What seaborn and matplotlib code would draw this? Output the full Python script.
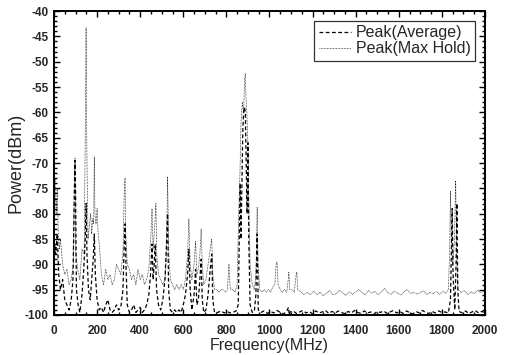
import numpy as np
import pandas as pd
import seaborn as sns
import matplotlib.pyplot as plt
from matplotlib.ticker import MultipleLocator

# Peak(Max Hold) trace (MHz, dBm)
freq_max = [0, 5, 10, 15, 20, 25, 30, 40, 50, 60, 70, 80, 90, 95, 98, 101, 110, 120, 130, 140,
            146, 149, 152, 158, 165, 170, 175, 180, 184, 187, 190, 195, 200, 205, 210, 220, 230, 240, 250, 260,
            270, 280, 290, 300, 310, 320, 327, 330, 333, 340, 350, 360, 370, 380, 390, 400, 410, 420, 430, 440,
            450, 455, 460, 468, 473, 477, 485, 495, 505, 515, 522, 527, 533, 540, 550, 560, 570, 580, 590, 600,
            610, 620, 626, 632, 640, 650, 657, 663, 670, 677, 683, 688, 695, 705, 715, 725, 732, 737, 745, 755,
            765, 775, 785, 795, 805, 812, 818, 830, 840, 850, 857, 863, 868, 874, 880, 885, 888, 891, 895, 900,
            905, 910, 920, 930, 937, 943, 947, 955, 965, 975, 985, 995, 1005, 1015, 1025, 1031, 1035, 1040, 1050, 1060,
            1070, 1080, 1087, 1090, 1094, 1105, 1115, 1124, 1127, 1131, 1145, 1160, 1175, 1190, 1205, 1220, 1235, 1250, 1265, 1280,
            1295, 1310, 1325, 1340, 1355, 1370, 1385, 1400, 1415, 1430, 1445, 1460, 1475, 1490, 1505, 1520, 1535, 1550, 1565, 1580,
            1595, 1610, 1625, 1640, 1655, 1670, 1685, 1700, 1715, 1730, 1745, 1760, 1775, 1790, 1805, 1818, 1830, 1836, 1840, 1844,
            1850, 1858, 1864, 1869, 1875, 1890, 1905, 1920, 1935, 1950, 1965, 1980, 2000]
power_max = [-76, -73, -80, -75, -84, -87, -85, -90, -92, -91, -94, -93, -90, -72, -69, -88, -91, -93, -87, -88,
             -60, -43.3, -66, -85, -82, -80, -84, -81, -82, -68.8, -80, -82, -79, -84, -86, -92, -94, -91, -93, -92,
             -94, -93, -90, -91, -92, -88, -74, -73, -84, -90, -91, -93, -92, -94, -91, -93, -92, -94, -93, -91,
             -84, -79, -87, -82, -78, -88, -92, -93, -94, -93, -88, -72.7, -88, -93, -94, -95, -94, -95, -94, -95,
             -93, -88, -81, -90, -93, -90, -85.5, -92, -91, -88, -83, -90, -94, -93, -90, -87, -85, -92, -95, -95,
             -95.5, -95, -95, -95.5, -95, -90, -95, -95, -95.5, -94, -80, -72, -62, -58, -60, -53, -52.3, -57, -60, -66,
             -80, -90, -94, -95, -92, -78.7, -90, -95, -95.5, -95, -95.5, -95, -95.5, -94.5, -94, -90, -89.5, -94, -95, -95.5,
             -95, -95.5, -93, -91.5, -95, -95, -95.5, -92, -91.5, -95, -95.5, -96, -95.5, -96, -95.3, -96, -95.5, -96.2, -95.6, -95.2,
             -96, -95.8, -95.1, -95.7, -96.1, -95.4, -95.9, -95.5, -95, -95.6, -96, -95.2, -95.7, -95.3, -96, -95.4, -94.8, -95.6, -95.9, -95.3,
             -95.7, -96.1, -95.4, -95, -95.8, -95.5, -95.9, -95.6, -95.2, -96, -95.5, -95.8, -95.4, -95.9, -95.3, -95.7, -95, -88, -75.5, -85,
             -90, -86, -73.5, -88, -95, -95.6, -95.2, -96, -95.4, -95.8, -95.1, -95.6, -95.3]

# Peak(Average) trace
freq_avg = [0, 8, 15, 22, 30, 40, 50, 60, 70, 80, 88, 93, 97, 100, 104, 112, 120, 130, 138, 145,
            149, 153, 160, 168, 175, 182, 187, 192, 200, 210, 220, 230, 240, 250, 260, 270, 280, 290, 300, 310,
            320, 326, 330, 334, 340, 350, 360, 370, 380, 390, 400, 410, 420, 430, 440, 448, 455, 460, 465, 470,
            476, 485, 495, 505, 515, 522, 527, 532, 540, 550, 560, 570, 580, 590, 600, 610, 620, 626, 632, 640,
            650, 657, 663, 670, 677, 683, 688, 695, 705, 715, 725, 732, 737, 745, 760, 775, 790, 805, 815, 830,
            845, 855, 860, 864, 868, 872, 876, 880, 884, 888, 892, 896, 900, 904, 910, 920, 930, 937, 943, 948,
            960, 975, 990, 1005, 1020, 1035, 1050, 1065, 1080, 1088, 1092, 1096, 1110, 1125, 1140, 1155, 1170, 1185, 1200, 1215,
            1230, 1245, 1260, 1275, 1290, 1305, 1320, 1335, 1350, 1365, 1380, 1395, 1410, 1425, 1440, 1455, 1470, 1485, 1500, 1515,
            1530, 1545, 1560, 1575, 1590, 1605, 1620, 1635, 1650, 1665, 1680, 1695, 1710, 1725, 1740, 1755, 1770, 1785, 1800, 1815,
            1830, 1840, 1845, 1848, 1852, 1860, 1866, 1870, 1874, 1880, 1895, 1910, 1925, 1940, 1955, 1970, 1985, 2000]
power_avg = [-85, -88, -84, -92, -95, -93, -97, -98, -99, -97, -93, -80, -69.5, -75, -95, -98, -99.5, -96, -91, -85,
             -78, -88, -95, -97, -93, -89, -84, -92, -97, -99, -98.5, -99.5, -98, -97, -99, -99.5, -99, -98, -99, -98.5,
             -95, -86, -82, -90, -98, -99.5, -99, -98, -99.5, -99, -98.5, -99.5, -99, -98, -96, -92, -86, -93, -90, -86,
             -95, -98, -99, -97, -93, -86, -80, -95, -99, -99.5, -99, -99.5, -99, -99.5, -98, -96, -92, -87, -95, -99,
             -96, -91, -98, -97, -93, -89, -97, -99.5, -99, -96, -91, -88, -97, -99.5, -99.5, -99.2, -99.6, -99.3, -99.6, -99.5,
             -99.2, -98, -85, -74, -85, -75, -64, -60, -59, -60, -70, -80, -66, -85, -98, -99.5, -99.2, -96, -84, -99,
             -99.5, -99.2, -99.7, -99.3, -99.6, -99.1, -99.5, -99.8, -99.3, -98.5, -100, -99.4, -99.2, -99.7, -99.4, -99.1, -99.6, -99.3, -99.8, -99.2,
             -99.6, -99.4, -99.1, -99.7, -99.3, -99.6, -99.2, -99.5, -99.8, -99.3, -99.6, -99.1, -99.5, -99.7, -99.2, -99.6, -99.4, -99.8, -99.3, -99.5,
             -99.2, -99.7, -99.4, -99.1, -99.6, -99.3, -99.7, -99.2, -99.5, -99.8, -99.3, -99.6, -99.1, -99.5, -99.7, -99.3, -99.6, -99.2, -99.5, -99.4,
             -99.6, -97, -85, -79, -92, -99, -90, -78, -95, -99.3, -99.6, -99.2, -99.7, -99.4, -99.1, -99.6, -99.3, -99.5]

df_max = pd.DataFrame({"Frequency": freq_max, "Power": power_max})
df_avg = pd.DataFrame({"Frequency": freq_avg, "Power": power_avg})

sns.set_style("ticks")
plt.rcParams['font.family'] = ['Liberation Sans', 'DejaVu Sans']
plt.rcParams['axes.unicode_minus'] = False

fig = plt.figure(figsize=(5.07, 3.55), dpi=100)
ax = fig.add_axes([0.1065, 0.1127, 0.850, 0.856])

sns.lineplot(x="Frequency", y="Power", data=df_avg, ax=ax, color="black", linewidth=0.9,
             linestyle=(0, (3, 2)), sort=False, estimator=None, label="Peak(Average)")
sns.lineplot(x="Frequency", y="Power", data=df_max, ax=ax, color="black", linewidth=0.5,
             linestyle=(0, (1, 1.2)), sort=False, estimator=None, label="Peak(Max Hold)")

ax.set_xlim(0, 2000)
ax.set_ylim(-100, -40)
ax.xaxis.set_major_locator(MultipleLocator(200))
ax.xaxis.set_minor_locator(MultipleLocator(50))
ax.yaxis.set_major_locator(MultipleLocator(5))
ax.yaxis.set_minor_locator(MultipleLocator(1))
ax.tick_params(which="both", direction="in", top=True, right=True, width=1, color="black")
ax.tick_params(which="major", length=4, labelsize=8.5)
ax.tick_params(which="minor", length=2)
ax.tick_params(axis="x", which="major", pad=7)
ax.tick_params(axis="y", which="major", pad=4)
for lab in ax.get_xticklabels() + ax.get_yticklabels():
    lab.set_fontweight("bold")
for sp in ax.spines.values():
    sp.set_linewidth(1.4)
    sp.set_color("black")

ax.set_xlabel("Frequency(MHz)", fontsize=11.5, labelpad=1)
ax.set_ylabel("Power(dBm)", fontsize=13, labelpad=0)

leg = ax.legend(loc="upper right", fontsize=11.5, frameon=True, fancybox=False,
                handlelength=2.0, handletextpad=0.3, borderaxespad=0.6,
                borderpad=0.3, labelspacing=0.05)
leg.get_frame().set_edgecolor("black")
leg.get_frame().set_linewidth(0.9)

fig.savefig("out.png", dpi=100)
